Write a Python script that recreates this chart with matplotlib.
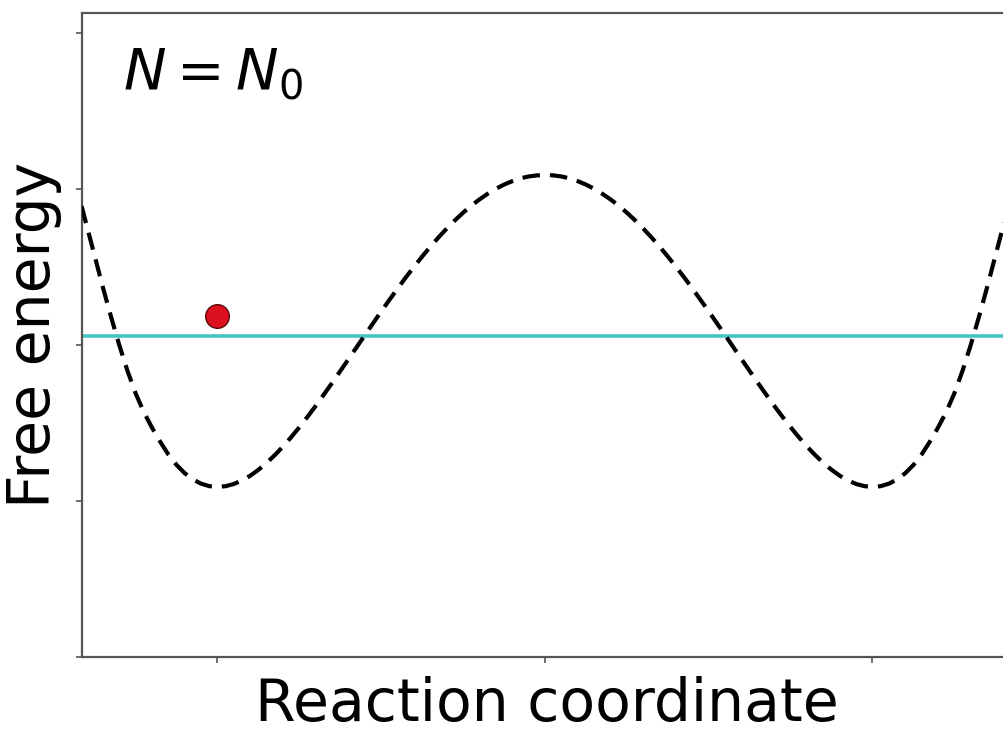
import matplotlib
matplotlib.use("Agg")
import matplotlib.pyplot as plt

# Free-energy profile (reaction coordinate, free energy)
coord = [-1.415, -1.400, -1.375, -1.350, -1.325, -1.300, -1.275, -1.250, -1.225, -1.200,
         -1.175, -1.150, -1.125, -1.100, -1.075, -1.050, -1.025, -1.000, -0.975, -0.950,
         -0.925, -0.900, -0.875, -0.850, -0.825, -0.800, -0.775, -0.750, -0.725, -0.700,
         -0.675, -0.650, -0.625, -0.600, -0.575, -0.550, -0.525, -0.500, -0.475, -0.450,
         -0.425, -0.400, -0.375, -0.350, -0.325, -0.300, -0.275, -0.250, -0.225, -0.200,
         -0.175, -0.150, -0.125, -0.100, -0.075, -0.050, -0.025, 0.000,
         0.025, 0.050, 0.075, 0.100, 0.125, 0.150, 0.175, 0.200, 0.225, 0.250,
         0.275, 0.300, 0.325, 0.350, 0.375, 0.400, 0.425, 0.450, 0.475, 0.500,
         0.525, 0.550, 0.575, 0.600, 0.625, 0.650, 0.675, 0.700, 0.725, 0.750,
         0.775, 0.800, 0.825, 0.850, 0.875, 0.900, 0.925, 0.950, 0.975, 1.000,
         1.025, 1.050, 1.075, 1.100, 1.125, 1.150, 1.175, 1.200, 1.225, 1.250,
         1.275, 1.300, 1.325, 1.350, 1.375, 1.400, 1.415]
energy = [2.890, 2.770, 2.570, 2.370, 2.180, 2.000, 1.835, 1.690, 1.570, 1.470,
          1.380, 1.298, 1.231, 1.178, 1.138, 1.111, 1.095, 1.090, 1.095, 1.109,
          1.132, 1.162, 1.200, 1.244, 1.294, 1.349, 1.409, 1.473, 1.540, 1.610,
          1.683, 1.757, 1.833, 1.909, 1.986, 2.063, 2.139, 2.215, 2.289, 2.362,
          2.433, 2.501, 2.567, 2.630, 2.690, 2.746, 2.799, 2.848, 2.893, 2.933,
          2.969, 3.001, 3.028, 3.050, 3.068, 3.080, 3.087, 3.090,
          3.087, 3.080, 3.068, 3.050, 3.028, 3.001, 2.969, 2.933, 2.893, 2.848,
          2.799, 2.746, 2.690, 2.630, 2.567, 2.501, 2.433, 2.362, 2.289, 2.215,
          2.139, 2.063, 1.986, 1.909, 1.833, 1.757, 1.683, 1.610, 1.540, 1.473,
          1.409, 1.349, 1.294, 1.244, 1.200, 1.162, 1.132, 1.109, 1.095, 1.090,
          1.095, 1.111, 1.138, 1.178, 1.231, 1.298, 1.380, 1.470, 1.570, 1.690,
          1.835, 2.000, 2.180, 2.370, 2.570, 2.770, 2.890]

level = 2.06           # horizontal cyan line
ball_x = [-1.0]        # red particle
ball_y = [2.185]
x_ticks = [-1, 0, 1]
y_ticks = [0, 1, 2, 3, 4]
label_text = r"$N = N_0$"

fig = plt.figure(figsize=(10.04, 7.33), dpi=100)
W, H = 1004, 733
left_px, right_px, top_px, bot_px = 82, 1011, 12.5, 657
ax = fig.add_axes([left_px / W, (H - bot_px) / H,
                   (right_px - left_px) / W, (bot_px - top_px) / H])

ax.plot(coord, energy, color="black", lw=3.0, dashes=(4.2, 2.4), zorder=3)
ax.axhline(level, color="#45c4c4", lw=2.6, zorder=2)
ax.plot(ball_x, ball_y, "o", ms=17, mfc="#dd1020", mec="#5a0a0a", mew=1.0, zorder=4)

ax.set_xlim(-1.4137, 1.4229)
ax.set_ylim(0, 4.131)
ax.set_xticks(x_ticks)
ax.set_yticks(y_ticks)
ax.set_xticklabels([])
ax.set_yticklabels([])
ax.tick_params(direction="out", length=4, width=1.2, color="#555555")
for s in ax.spines.values():
    s.set_color("#555555")
    s.set_linewidth(1.6)

ax.set_xlabel("Reaction coordinate", fontsize=42, family="DejaVu Sans", labelpad=6)
ax.set_ylabel("Free energy", fontsize=42, family="DejaVu Sans", labelpad=7)

ax.text(0.044, 0.878, label_text, transform=ax.transAxes, fontsize=41,
        va="baseline", ha="left")

fig.savefig("out.png", dpi=100)
